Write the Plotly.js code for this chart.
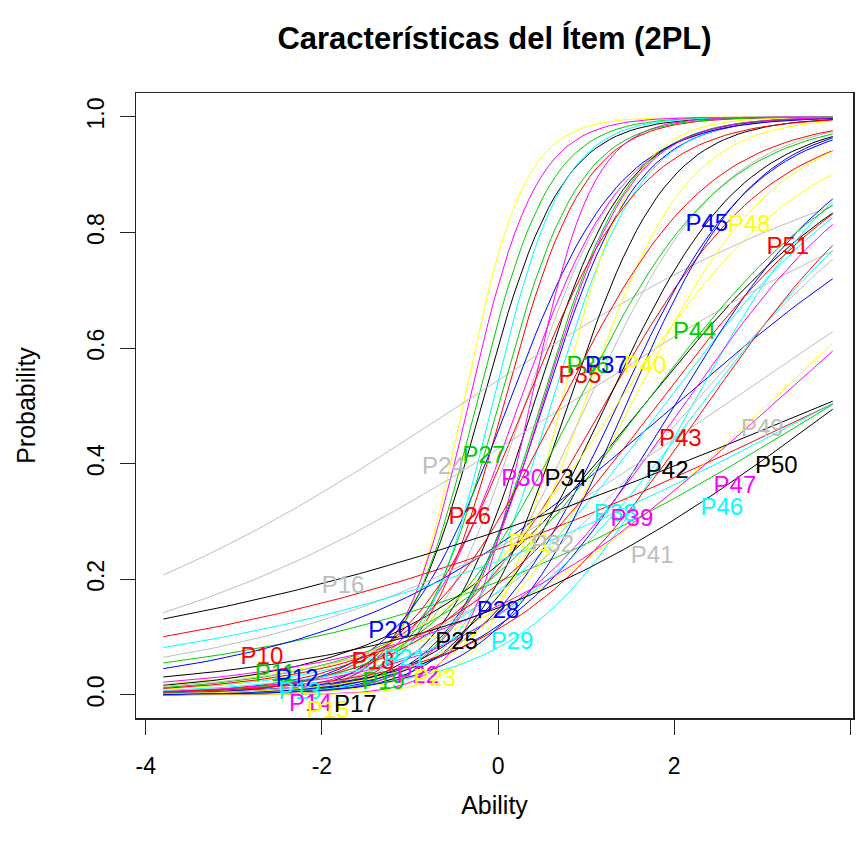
<!DOCTYPE html>
<html>
<head>
<meta charset="utf-8">
<script src="https://cdn.plot.ly/plotly-3.0.1.min.js"></script>
<style>html,body{margin:0;padding:0;background:#fff;}#chart{width:856px;height:850px;}</style>
</head>
<body>
<div id="chart"></div>
<script>
// Item names (P33 absent in the original)
const items = ['P1','P2','P3','P4','P5','P6','P7','P8','P9','P10',
  'P11','P12','P13','P14','P15','P16','P17','P18','P19','P20',
  'P21','P22','P23','P24','P25','P26','P27','P28','P29','P30',
  'P31','P32','P34','P35','P36','P37','P38','P39','P40',
  'P41','P42','P43','P44','P45','P46','P47','P48','P49','P50','P51'];

// 2PL discrimination (a)
const discrimination = [2.2,2.2,2.4,1.9,2.0,1.7,2.9,1.8,1.9,0.29,
  0.375,0.525,0.81,2.6,0.58,0.4,0.75,1.07,2.0,1.6,
  2.5,2.8,2.5,0.394,1.8,1.5,2.2,1.0,1.1,2.0,
  1.74,1.3,1.3,1.2,1.2,1.3,0.8,0.87,1.2,
  0.42,0.253,0.87,0.8,1.4,0.32,0.55,0.9,0.7,0.45,0.8];

// 2PL difficulty (b)
const difficulty = [-0.19,0.06,-0.25,0.51,0.6,0.23,-0.4,0.3,0.4,3.75,
  3.77,2.0,1.88,-0.34,3.04,-0.45,1.65,1.2,0.48,0.11,
  -0.07,0.36,0.71,0.76,0.79,0.3,0.0,2.0,2.2,0.5,
  0.97,1.0,1.22,0.7,0.88,1.35,2.3,2.1,1.5,
  2.55,3.67,2.36,1.65,1.45,3.75,3.1,1.34,2.2,3.85,1.8];

// Label anchor positions (P1-P9 fall below the plot region)
const labelX = [-3.85,-3.7,-3.55,-3.4,-3.25,-3.1,-2.98,-2.95,-2.92,-2.68,
  -2.53,-2.28,-2.25,-2.13,-1.93,-1.76,-1.62,-1.42,-1.3,-1.23,
  -1.06,-0.91,-0.72,-0.62,-0.47,-0.32,-0.16,0.0,0.16,0.28,
  0.36,0.62,0.77,0.93,1.02,1.23,1.33,1.52,1.67,
  1.75,1.92,2.07,2.23,2.37,2.54,2.69,2.85,3.0,3.16,3.29];
const labelY = [-0.08,-0.08,-0.08,-0.08,-0.08,-0.08,-0.08,-0.075,-0.062,0.064,
  0.035,0.026,0.003,-0.017,-0.03,0.187,-0.02,0.055,0.02,0.109,
  0.06,0.031,0.026,0.393,0.09,0.306,0.412,0.144,0.09,0.372,
  0.26,0.258,0.372,0.55,0.567,0.567,0.311,0.303,0.567,
  0.239,0.386,0.441,0.626,0.813,0.322,0.36,0.811,0.458,0.394,0.773];

const palette = ['#000000','#FF0000','#00CD00','#0000FF','#00FFFF','#FF00FF','#FFFF00','#BEBEBE'];

const yRange = [-0.04, 1.0415];
const thetaMin = -3.8, thetaMax = 3.8, nPts = 100;
const theta = [];
for (let i = 0; i < nPts; i++) theta.push(thetaMin + (thetaMax - thetaMin) * i / (nPts - 1));

const font = 'Liberation Sans, Arial, sans-serif';
const traces = items.map((name, i) => ({
  type: 'scatter', mode: 'lines', name: name,
  x: theta,
  y: theta.map(t => 1 / (1 + Math.exp(-discrimination[i] * (t - difficulty[i])))),
  line: {color: palette[i % 8], width: 1},
  hoverinfo: 'skip', showlegend: false
}));

// labels whose anchor lies below the plotting region are clipped away in the original
const shown = items.map((_, i) => i).filter(i => labelY[i] > -0.05);
traces.push({
  type: 'scatter', mode: 'text',
  x: shown.map(i => labelX[i]), y: shown.map(i => labelY[i]), text: shown.map(i => items[i]),
  textposition: 'middle center',
  textfont: {family: font, size: 24, color: shown.map(i => palette[i % 8])},
  cliponaxis: true, hoverinfo: 'skip', showlegend: false
});

const layout = {
  width: 856, height: 850,
  paper_bgcolor: '#ffffff', plot_bgcolor: '#ffffff',
  margin: {l: 136, r: 3, t: 93, b: 132},
  title: {text: 'Características del Ítem (2PL)', font: {family: font, size: 31, color: '#000', weight: 'bold'},
          x: 0.5, xref: 'paper', xanchor: 'center', y: 1 - 38/850, yref: 'container', yanchor: 'middle'},
  xaxis: {
    range: [-4.11, 4.03], tickvals: [-4,-2,0,2,4], ticktext: ['-4','-2','0','2','4'],
    ticks: 'outside', ticklen: 15, tickwidth: 1, tickcolor: '#222',
    showline: true, linecolor: '#222', linewidth: 1.5, mirror: true,
    showgrid: false, zeroline: false, ticklabelstandoff: 12,
    tickfont: {family: font, size: 23, color: '#000'},
    title: {text: 'Ability', font: {family: font, size: 25, color: '#000'}, standoff: 18}
  },
  yaxis: {
    range: yRange, tickvals: [0,0.2,0.4,0.6,0.8,1.0], ticktext: ['0.0','0.2','0.4','0.6','0.8','1.0'],
    ticks: 'outside', ticklen: 15, tickwidth: 1, tickcolor: '#222',
    showline: true, linecolor: '#222', linewidth: 1.5, mirror: true,
    showgrid: false, zeroline: false, tickangle: -90, ticklabelstandoff: 6,
    tickfont: {family: font, size: 23, color: '#000'},
    title: {text: 'Probability', font: {family: font, size: 25, color: '#000'}, standoff: 40}
  }
};

Plotly.newPlot('chart', traces, layout, {staticPlot: true, displayModeBar: false});
</script>
</body>
</html>
